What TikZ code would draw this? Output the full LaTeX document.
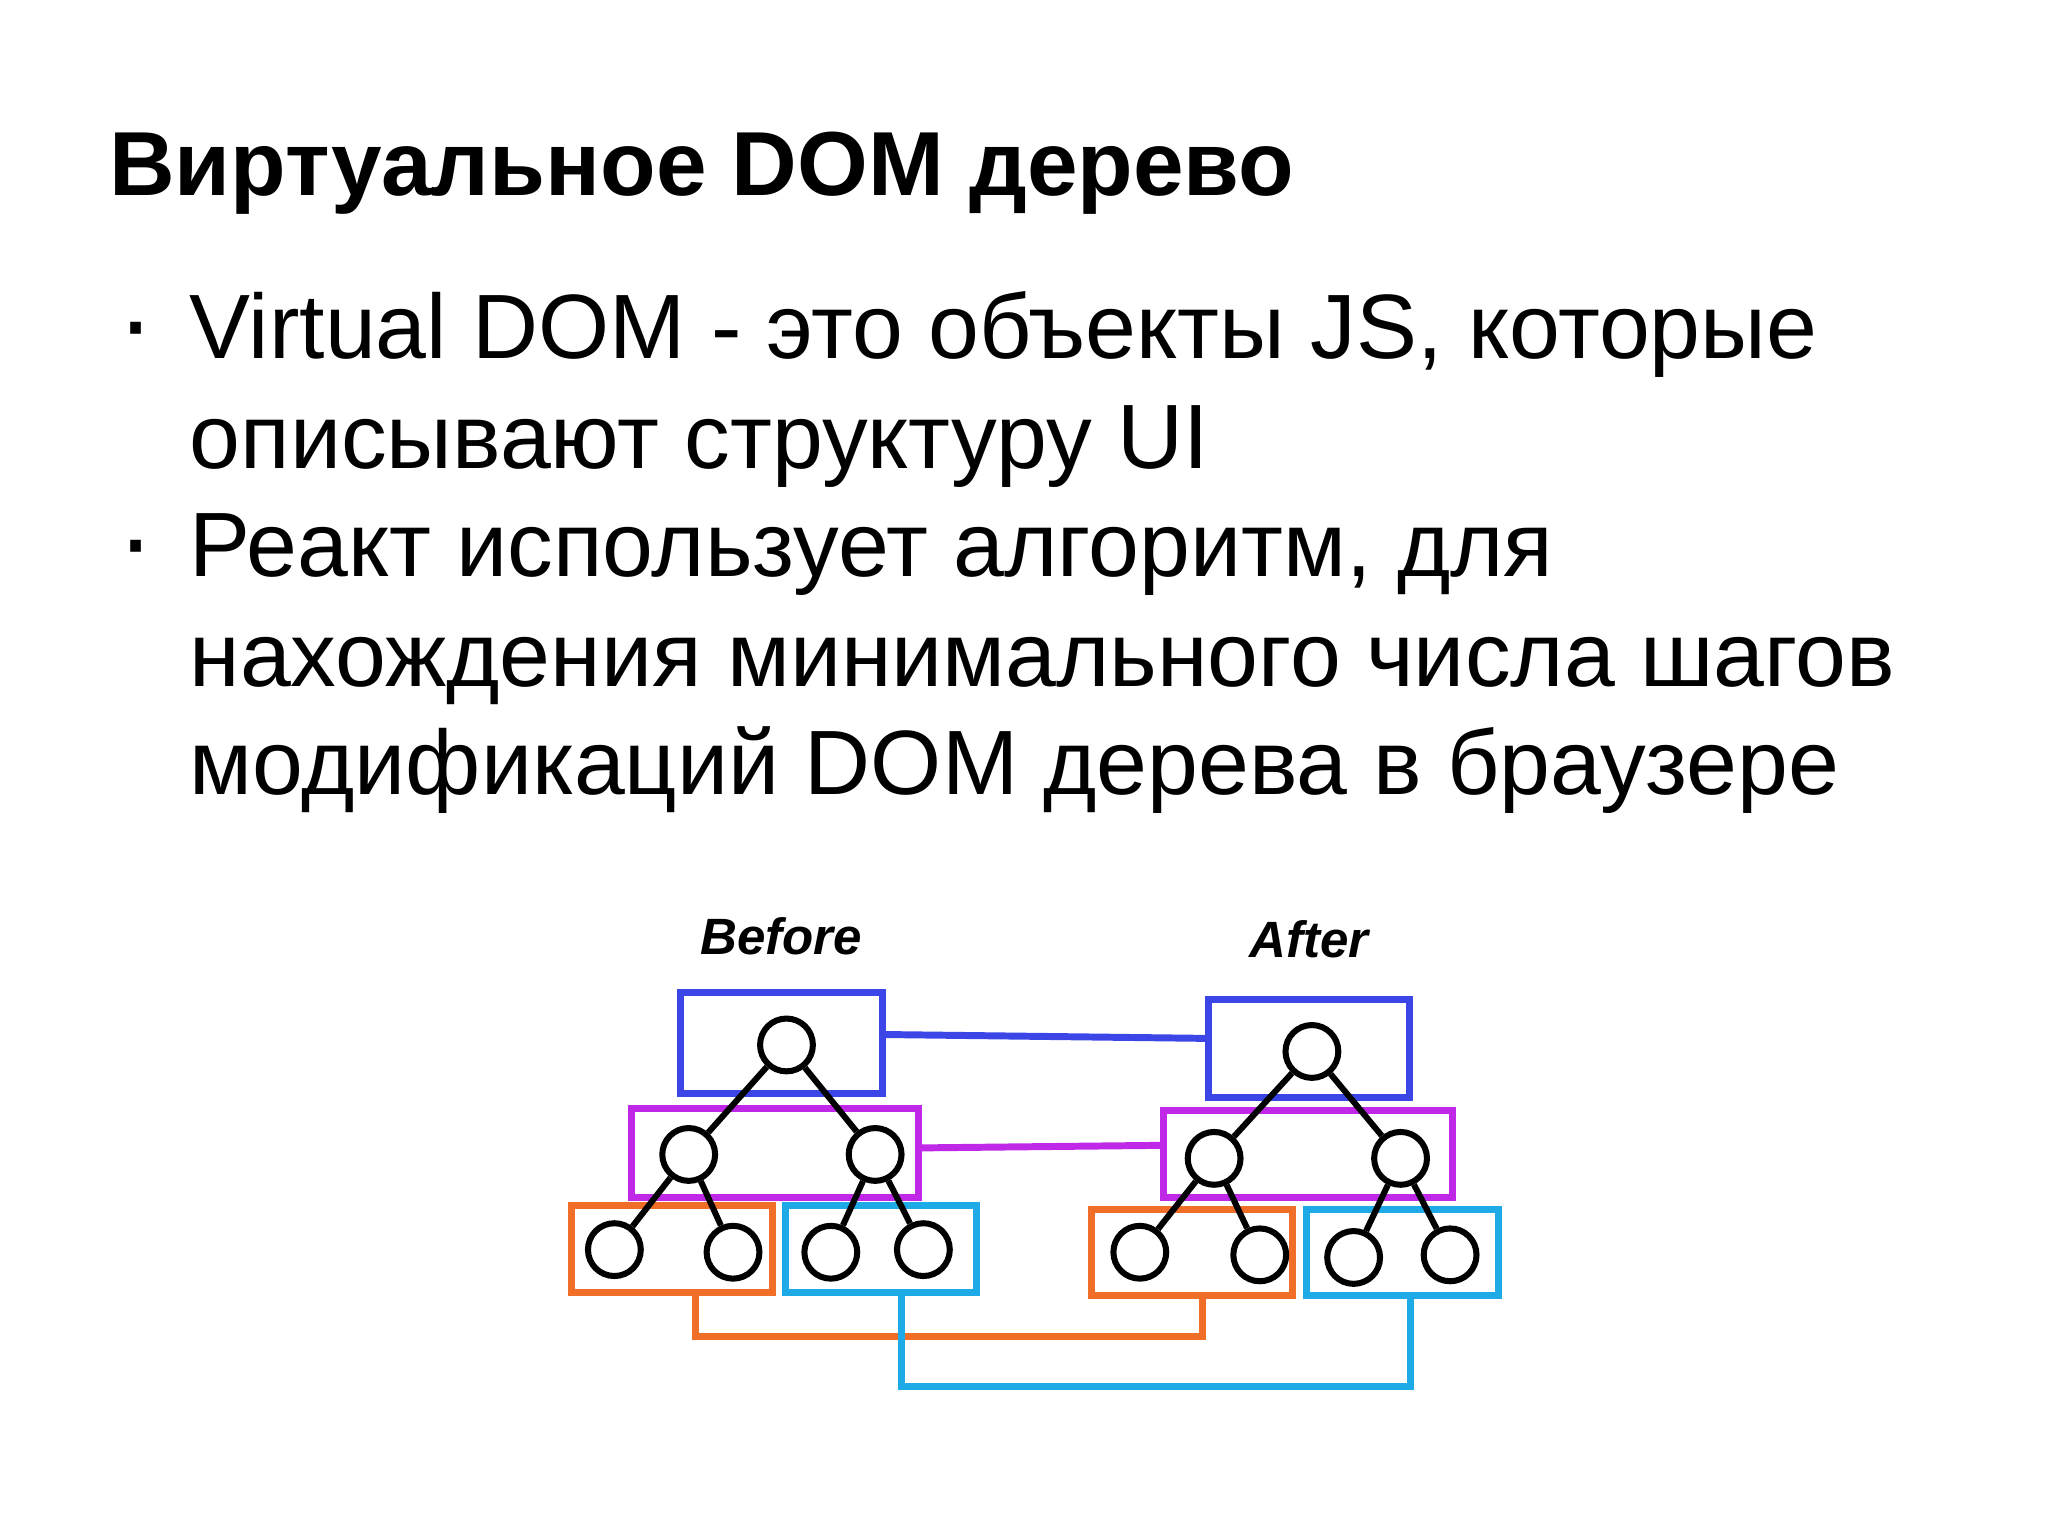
\documentclass[tikz,border=0pt]{standalone}
\usepackage{fontspec}
\setmainfont{Liberation Sans}
\definecolor{cblue}{RGB}{60,70,230}
\definecolor{cpurp}{RGB}{190,40,230}
\definecolor{corng}{RGB}{240,110,40}
\definecolor{ccyan}{RGB}{30,170,230}
\tikzset{
 box/.style={draw=#1,line width=1.5pt},
 circ/.style={circle,draw=black,line width=1.3pt,minimum size=0.4cm,inner sep=0},
 edge/.style={line width=1.3pt},
 link/.style={draw=#1,line width=1.5pt},
 body/.style={anchor=base west,font=\fontsize{19.7}{24}\selectfont,inner sep=0},
 hand/.style={font=\fontsize{11}{13}\selectfont\bfseries\itshape}
}
\begin{document}
\begin{tikzpicture}[x=0.01cm,y=-0.01cm]
\useasboundingbox (0,0) rectangle (1552,1164);
\node[anchor=base west,inner sep=0,font=\fontsize{19.6}{23}\selectfont\bfseries] (title) at (82,148) {Виртуальное DOM дерево};
\node[body,font=\fontsize{24}{24}\selectfont] (b1) at (88,272) {·};
\node[body] (l1) at (143,272) {Virtual DOM - это объекты JS, которые};
\node[body] (l2) at (143,355) {описывают структуру UI};
\node[body,font=\fontsize{24}{24}\selectfont] (b2) at (88,437) {·};
\node[body] (l3) at (143,437) {Реакт использует алгоритм, для};
\node[body] (l4) at (143,520) {нахождения минимального числа шагов};
\node[body] (l5) at (143,602) {модификаций DOM дерева в браузере};
\begin{scope}[xshift=4,yshift=-8,scale=0.988]
\node[hand] (before) at (585,690) {Before};
\node[hand] (after) at (990,692) {After};
\draw[box=cblue] (508,733) rectangle (663,810);
\draw[box=cpurp] (470,822) rectangle (690,890);
\draw[box=corng] (424,896) rectangle (578,963);
\draw[box=ccyan] (588,896) rectangle (735,963);
\draw[box=cblue] (913,738) rectangle (1067,813);
\draw[box=cpurp] (878,823) rectangle (1100,890);
\draw[box=corng] (823,899) rectangle (977,965);
\draw[box=ccyan] (988,899) rectangle (1135,965);
\node[circ] (r) at (589,773) {};
\node[circ] (a) at (514,857) {};
\node[circ] (b) at (657,857) {};
\node[circ] (a1) at (457,930) {};
\node[circ] (a2) at (548,932) {};
\node[circ] (b1c) at (623,932) {};
\node[circ] (b2c) at (694,930) {};
\node[circ] (R) at (992,778) {};
\node[circ] (A) at (917,860) {};
\node[circ] (B) at (1060,860) {};
\node[circ] (A1) at (860,932) {};
\node[circ] (A2) at (952,934) {};
\node[circ] (B1) at (1024,936) {};
\node[circ] (B2) at (1098,934) {};
\foreach \p/\c in {r/a,r/b,a/a1,a/a2,b/b1c,b/b2c,R/A,R/B,A/A1,A/A2,B/B1,B/B2}
  \draw[edge] (\p) -- (\c);
\coordinate (o1) at (519,963); \coordinate (o2) at (908,965);
\coordinate (c1) at (677,963); \coordinate (c2) at (1068,965);
\draw[link=cblue] (663,765) -- (913,768);
\draw[link=cpurp] (690,852) -- (878,850);
\draw[link=corng] (o1) -- ++(0,34) -| (o2);
\draw[link=ccyan] (c1) -- ++(0,72) -| (c2);
\end{scope}
\end{tikzpicture}
\end{document}
